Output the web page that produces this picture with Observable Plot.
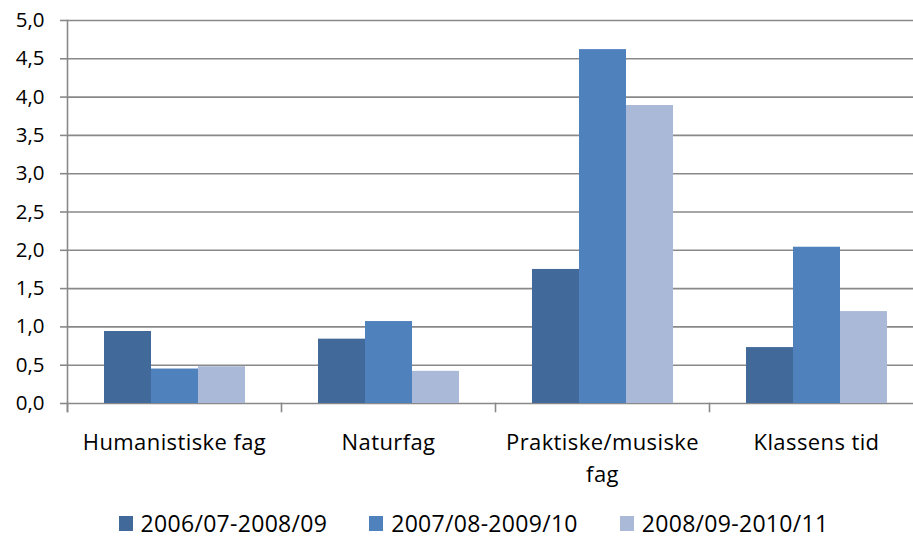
<!DOCTYPE html>
<html>
<head>
<meta charset="utf-8">
<script src="https://cdn.jsdelivr.net/npm/d3@7"></script>
<script src="https://cdn.jsdelivr.net/npm/@observablehq/plot@0.6"></script>
<style>
  html, body { margin: 0; padding: 0; background: #fff; }
  body { width: 913px; height: 540px; position: relative; overflow: hidden; font-family: "Open Sans", sans-serif; }
  #chart svg { display: block; overflow: hidden; }
  #legend { position: absolute; left: 0; top: 511px; width: 913px; display: flex; justify-content: center; padding-left: 34px; box-sizing: border-box; font-size: 23px; letter-spacing: 0.3px; color: #000; line-height: 25px; }
  .item { display: flex; align-items: center; margin: 0 21px; }
  .sw { width: 14px; height: 15px; margin-right: 8px; }
</style>
</head>
<body>
<div id="chart"></div>
<div id="legend"></div>
<script>
const categories = ["Humanistiske fag", "Naturfag", "Praktiske/musiske fag", "Klassens tid"];
const categoryLabels = ["Humanistiske fag", "Naturfag", "Praktiske/musiske\nfag", "Klassens tid"];
const series = ["2006/07-2008/09", "2007/08-2009/10", "2008/09-2010/11"];
const values2006 = [0.94, 0.84, 1.75, 0.73];
const values2007 = [0.45, 1.07, 4.62, 2.04];
const values2008 = [0.48, 0.42, 3.89, 1.20];
const yTicks = [0, 0.5, 1, 1.5, 2, 2.5, 3, 3.5, 4, 4.5, 5];
const colors = ["#41699A", "#4F81BD", "#AAB9D7"];

const seriesValues = [values2006, values2007, values2008];
const data = categories.flatMap((c, i) => series.map((s, j) => ({category: c, series: s, value: seriesValues[j][i]})));
const labelData = categories.map((c, i) => ({category: c, label: categoryLabels[i]}));

const gridColor = "#898989";

const chart = Plot.plot({
  width: 913,
  height: 490,
  marginLeft: 67,
  marginRight: 0,
  marginTop: 20,
  marginBottom: 87,
  style: {fontFamily: "Open Sans", background: "#fff", overflow: "hidden"},
  fx: {domain: categories, range: [67, 923], padding: 0, axis: null, label: null},
  x: {domain: series, paddingInner: 0, paddingOuter: 0.73, axis: null},
  y: {domain: [0, 5], axis: null},
  color: {domain: series, range: colors},
  marks: [
    Plot.ruleY(yTicks, {stroke: gridColor, strokeWidth: 1.6}),
    Plot.barY(data, {fx: "category", x: "series", y: "value", fill: "series"}),
    Plot.axisY({
      ticks: yTicks,
      tickFormat: d => d.toFixed(1).replace(".", ","),
      tickSize: 7,
      tickPadding: 16,
      stroke: gridColor,
      strokeWidth: 1.6,
      fontSize: 20.5,
      fill: "#000",
      label: null
    }),
    Plot.frame({anchor: "left", facetAnchor: "left", stroke: gridColor, strokeWidth: 1.6, insetBottom: -8}),
    Plot.frame({anchor: "left", stroke: gridColor, strokeWidth: 1.6, insetTop: 383, insetBottom: -8}),
    Plot.text(labelData, {
      fx: "category",
      text: "label",
      frameAnchor: "bottom",
      lineAnchor: "top",
      dy: 24,
      lineHeight: 1.45,
      fontSize: 22,
      fill: "#000"
    })
  ]
});
chart.querySelectorAll("g[aria-label='text'] text").forEach(t => t.style.letterSpacing = "0.4px");
document.getElementById("chart").appendChild(chart);

const legend = document.getElementById("legend");
series.forEach((s, i) => {
  const item = document.createElement("div");
  item.className = "item";
  const sw = document.createElement("span");
  sw.className = "sw";
  sw.style.background = colors[i];
  const lab = document.createElement("span");
  lab.textContent = s;
  item.appendChild(sw);
  item.appendChild(lab);
  legend.appendChild(item);
});
</script>
</body>
</html>
